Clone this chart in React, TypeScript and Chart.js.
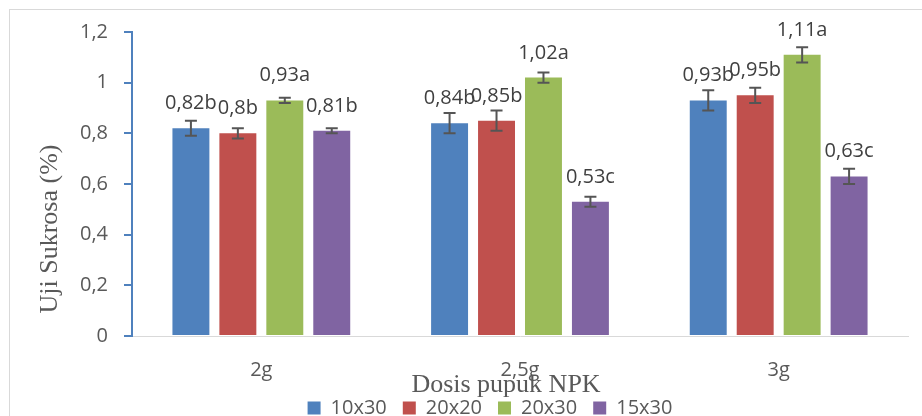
import { useEffect, useRef } from "react";
import { Chart, registerables } from "chart.js";

Chart.register(...registerables);

const categories = ["2g", "2,5g", "3g"];
const seriesNames = ["10x30", "20x20", "20x30", "15x30"];
const seriesColors = ["#4F81BD", "#C0504D", "#9BBB59", "#8064A2"];

const values10x30 = [0.82, 0.84, 0.93];
const values20x20 = [0.8, 0.85, 0.95];
const values20x30 = [0.93, 1.02, 1.11];
const values15x30 = [0.81, 0.53, 0.63];

const errors10x30 = [0.03, 0.04, 0.04];
const errors20x20 = [0.02, 0.04, 0.03];
const errors20x30 = [0.01, 0.02, 0.03];
const errors15x30 = [0.01, 0.02, 0.03];

const letters10x30 = ["b", "b", "b"];
const letters20x20 = ["b", "b", "b"];
const letters20x30 = ["a", "a", "a"];
const letters15x30 = ["b", "c", "c"];

const yMin = 0;
const yMax = 1.2;
const yStep = 0.2;

const yTitle = "Uji Sukrosa (%)";
const xTitle = "Dosis pupuk NPK";

const fmt = (v: number) => String(Math.round(v * 100) / 100).replace(".", ",");

const errorLabelPlugin = {
  id: "errorLabels",
  afterDatasetsDraw(chart: any) {
    const ctx = chart.ctx;
    const y = chart.scales.y;
    chart.data.datasets.forEach((ds: any, di: number) => {
      const meta = chart.getDatasetMeta(di);
      meta.data.forEach((el: any, i: number) => {
        const v = ds.data[i];
        const e = ds.errors[i];
        const yt = y.getPixelForValue(v + e);
        const yb = y.getPixelForValue(v - e);
        ctx.save();
        ctx.strokeStyle = "#555555";
        ctx.lineWidth = 2;
        ctx.beginPath();
        ctx.moveTo(el.x, yt);
        ctx.lineTo(el.x, yb);
        ctx.moveTo(el.x - 6, yt);
        ctx.lineTo(el.x + 6, yt);
        ctx.moveTo(el.x - 6, yb);
        ctx.lineTo(el.x + 6, yb);
        ctx.stroke();
        ctx.fillStyle = "#404040";
        ctx.font = '20px "Open Sans"';
        ctx.textAlign = "center";
        ctx.textBaseline = "alphabetic";
        ctx.fillText(fmt(v) + ds.letters[i], el.x, el.y - 19);
        ctx.restore();
      });
    });
  },
};

const titlesPlugin = {
  id: "axisTitles",
  afterLayout(chart: any) {
    if (chart.legend) {
      chart.legend.left += 36;
      chart.legend.right += 36;
    }
  },
  afterDraw(chart: any) {
    const ctx = chart.ctx;
    ctx.save();
    ctx.fillStyle = "#595959";
    ctx.font = '26px "Liberation Serif"';
    ctx.textAlign = "center";
    ctx.textBaseline = "middle";
    ctx.fillText(xTitle, 506, 385);
    ctx.translate(50, 229);
    ctx.rotate(-Math.PI / 2);
    ctx.fillText(yTitle, 0, 0);
    ctx.restore();
  },
};

export default function App() {
  const ref = useRef<HTMLCanvasElement>(null);

  useEffect(() => {
    if (!ref.current) return;
    Chart.defaults.font.family = "'Open Sans'";
    const mk = (i: number, data: number[], errors: number[], letters: string[]) => ({
      label: seriesNames[i],
      data,
      errors,
      letters,
      backgroundColor: seriesColors[i],
      borderWidth: 0,
      categoryPercentage: 0.726,
      barPercentage: 0.787,
    });
    const chart = new Chart(ref.current, {
      type: "bar",
      data: {
        labels: categories,
        datasets: [
          mk(0, values10x30, errors10x30, letters10x30),
          mk(1, values20x20, errors20x20, letters20x20),
          mk(2, values20x30, errors20x30, letters20x30),
          mk(3, values15x30, errors15x30, letters15x30),
        ] as any,
      },
      options: {
        responsive: false,
        maintainAspectRatio: false,
        animation: false,
        layout: { padding: { top: 32, right: 14, left: 0, bottom: 0 } },
        plugins: {
          tooltip: { enabled: false },
          legend: {
            position: "bottom",
            labels: {
              boxWidth: 13,
              boxHeight: 13,
              padding: 16,
              color: "#595959",
              font: { family: "'Open Sans'", size: 20 },
            },
          },
        },
        scales: {
          x: {
            grid: { display: true, drawOnChartArea: false, drawTicks: false },
            border: { display: true, color: "#D9D9D9", width: 1 },
            ticks: {
              color: "#595959",
              padding: 22,
              font: { family: "'Open Sans'", size: 20 },
            },
            afterFit: (s: any) => {
              s.height = 46;
            },
          },
          y: {
            min: yMin,
            max: yMax,
            grid: {
              display: true,
              drawOnChartArea: false,
              drawTicks: true,
              tickLength: 8,
              color: "#4F81BD",
              lineWidth: 2,
            },
            border: { display: true, color: "#4F81BD", width: 2 },
            ticks: {
              stepSize: yStep,
              color: "#595959",
              padding: 16,
              font: { family: "'Open Sans'", size: 20 },
              callback: (v: any) => fmt(Number(v)),
            },
            afterFit: (s: any) => {
              s.width = 132;
            },
          },
        },
      },
      plugins: [errorLabelPlugin, titlesPlugin],
    });
    return () => chart.destroy();
  }, []);

  return (
    <div
      style={{
        position: "fixed",
        left: 0,
        top: 0,
        width: 922,
        height: 416,
        overflow: "hidden",
        background: "#fff",
      }}
    >
      <div
        style={{
          position: "absolute",
          left: 9,
          top: 9,
          width: 2000,
          height: 2000,
          borderTop: "1px solid #D9D9D9",
          borderLeft: "1px solid #D9D9D9",
        }}
      />
      <canvas
        ref={ref}
        width={922}
        height={428}
        style={{ position: "absolute", left: 0, top: 0, width: 922, height: 428 }}
      />
    </div>
  );
}
